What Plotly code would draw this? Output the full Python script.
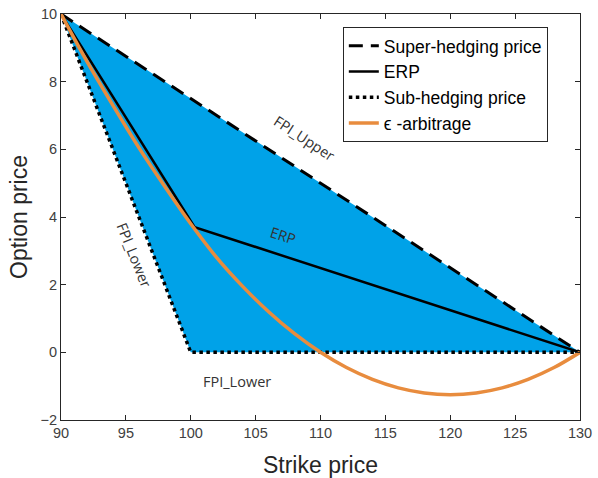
import plotly.graph_objects as go

# Data
strike_super = [90, 130]
price_super = [10, 0]

strike_sub = [90, 100, 130]
price_sub = [10, 0, 0]

strike_erp = [90, 100.3, 130]
price_erp = [10, 3.7, 0]

strike_eps = [90, 92, 94, 96, 98, 100, 102, 104, 106, 108, 110, 112, 114,
              116, 118, 120, 122, 124, 126, 128, 130]
price_eps = [10, 8.6, 7.3, 6.05, 4.9, 3.8, 2.8, 1.95, 1.2, 0.55, 0,
             -0.45, -0.8, -1.05, -1.2, -1.25, -1.2, -1.05, -0.8, -0.45, 0]

x_ticks = [90, 95, 100, 105, 110, 115, 120, 125, 130]
y_ticks = [-2, 0, 2, 4, 6, 8, 10]

fig = go.Figure()

# Shaded region between super- and sub-hedging prices
fig.add_trace(go.Scatter(
    x=strike_super + strike_sub[::-1][:-1] + [strike_super[0]],
    y=price_super + price_sub[::-1][:-1] + [price_super[0]],
    fill="toself", fillcolor="rgb(0,162,232)", mode="lines",
    line=dict(width=0, color="rgba(0,0,0,0)"), showlegend=False,
    hoverinfo="skip"))

fig.add_trace(go.Scatter(
    x=strike_super, y=price_super, mode="lines", name="Super-hedging price",
    line=dict(color="black", width=3, dash="14px,8px")))
fig.add_trace(go.Scatter(
    x=strike_erp, y=price_erp, mode="lines", name="ERP",
    line=dict(color="black", width=2.5)))
fig.add_trace(go.Scatter(
    x=strike_sub, y=price_sub, mode="lines", name="Sub-hedging price",
    line=dict(color="black", width=3.5, dash="dot")))
fig.add_trace(go.Scatter(
    x=strike_eps, y=price_eps, mode="lines", name="ϵ -arbitrage",
    line=dict(color="rgb(232,140,62)", width=3.5, shape="spline")))

ann_font = dict(family="Open Sans, Liberation Sans, sans-serif", size=14.5, color="#333333")
fig.add_annotation(x=108.8, y=6.33, text="FPI_Upper", showarrow=False,
                   textangle=33, font=ann_font)
fig.add_annotation(x=107.1, y=3.44, text="ERP", showarrow=False,
                   textangle=18, font=ann_font)
fig.add_annotation(x=95.6, y=2.88, text="FPI_Lower", showarrow=False,
                   textangle=68, font=ann_font)
fig.add_annotation(x=103.56, y=-0.85, text="FPI_Lower", showarrow=False,
                   textangle=0, font=ann_font)

axis_common = dict(
    showline=True, linecolor="#262626", linewidth=1, mirror="ticks",
    ticks="inside", ticklen=5, tickcolor="#262626", showgrid=False,
    zeroline=False, automargin=False,
    tickfont=dict(family="Liberation Sans, Arial, sans-serif",
                  size=14.5, color="#404040"))

title_font = dict(family="Liberation Sans, Arial, sans-serif", size=23, color="#262626")

fig.update_layout(
    width=598, height=478,
    margin=dict(l=61, r=18, t=14, b=58),
    paper_bgcolor="white", plot_bgcolor="white",
    xaxis=dict(range=[90, 130], tickvals=x_ticks,
               title=dict(text="Strike price", standoff=16, font=title_font),
               **axis_common),
    yaxis=dict(range=[-2, 10], tickvals=y_ticks,
               title=dict(text="Option price", standoff=6, font=title_font),
               **axis_common),
    legend=dict(x=0.543, y=0.968, xanchor="left", yanchor="top",
                bgcolor="white", bordercolor="#262626", borderwidth=1,
                font=dict(family="Liberation Sans, Arial, sans-serif",
                          size=17.5, color="black"),
                tracegroupgap=0, itemwidth=30),
    showlegend=True,
)

fig.write_html("out.html", post_script="document.body.style.margin='0px';",
               config={"displayModeBar": False})
